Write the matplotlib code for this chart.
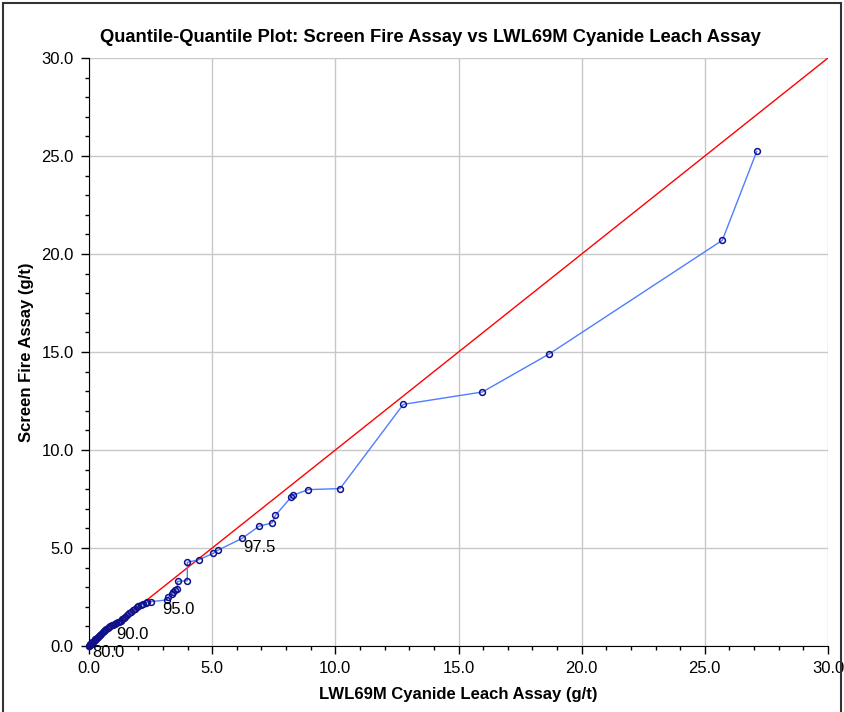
import matplotlib.pyplot as plt
from matplotlib.patches import Rectangle
from matplotlib.ticker import MultipleLocator, FormatStrFormatter

plt.rcParams['font.family'] = ['Liberation Sans', 'DejaVu Sans']

# quantile pairs (cyanide leach, screen fire), g/t
leach = [0.00, 0.01, 0.02, 0.03, 0.04, 0.05, 0.06, 0.08, 0.10, 0.12, 0.14, 0.17,
         0.20, 0.23, 0.26, 0.30, 0.34, 0.38, 0.42, 0.46, 0.50, 0.55, 0.60, 0.65,
         0.70, 0.75, 0.80, 0.86, 0.92, 0.98, 1.04, 1.10, 1.16, 1.22, 1.28, 1.34,
         1.40, 1.46, 1.55, 1.64, 1.72, 1.80, 1.87, 1.95, 2.00, 2.10, 2.21, 2.31,
         2.34, 2.50, 3.15, 3.21, 3.37, 3.42, 3.49, 3.58, 3.60, 3.99, 3.99, 4.45,
         5.05, 5.22, 6.21, 6.90, 7.43, 7.57, 8.20, 8.27, 8.90, 10.19, 12.76, 15.97,
         18.68, 25.71, 27.11]
screen = [0.00, 0.02, 0.03, 0.05, 0.06, 0.08, 0.09, 0.12, 0.14, 0.16, 0.19, 0.22,
          0.26, 0.30, 0.34, 0.38, 0.43, 0.48, 0.53, 0.58, 0.63, 0.69, 0.75, 0.81,
          0.87, 0.93, 0.98, 1.03, 1.07, 1.09, 1.11, 1.15, 1.20, 1.24, 1.30, 1.36,
          1.42, 1.50, 1.58, 1.67, 1.75, 1.84, 1.90, 1.97, 2.04, 2.11, 2.13, 2.18,
          2.23, 2.26, 2.35, 2.48, 2.67, 2.74, 2.86, 2.92, 3.30, 3.33, 4.27, 4.40,
          4.73, 4.88, 5.49, 6.11, 6.28, 6.67, 7.59, 7.69, 7.98, 8.03, 12.33, 12.96,
          14.90, 20.70, 25.24]

pct_labels = ['80.0', '90.0', '95.0', '97.5']
pct_x = [0.07, 1.04, 2.92, 6.21]
pct_y = [0.15, 1.09, 2.36, 5.49]

ref_line = [0, 30]

fig = plt.figure(figsize=(8.44, 7.12), dpi=100)
ax = fig.add_axes([0.1055, 0.0927, 0.8755, 0.8258])

ax.plot(ref_line, ref_line, color='#ff0000', lw=1, zorder=2)
ax.plot(leach, screen, color='#4f7dff', lw=1, marker='o', ms=4.2,
        mfc='none', mec='#10108a', mew=1.1, zorder=3, clip_on=False)

for lab, px, py in zip(pct_labels, pct_x, pct_y):
    ax.annotate(lab, (px, py), xytext=(1, -1.5), textcoords='offset points',
                ha='left', va='top', fontsize=12, zorder=4, annotation_clip=False)

ax.set_xlim(0, 30)
ax.set_ylim(0, 30)
ax.xaxis.set_major_locator(MultipleLocator(5))
ax.yaxis.set_major_locator(MultipleLocator(5))
ax.xaxis.set_minor_locator(MultipleLocator(1))
ax.yaxis.set_minor_locator(MultipleLocator(1))
ax.xaxis.set_major_formatter(FormatStrFormatter('%.1f'))
ax.yaxis.set_major_formatter(FormatStrFormatter('%.1f'))
ax.tick_params(which='major', direction='out', length=6, width=1, labelsize=12, pad=5)
ax.tick_params(which='minor', direction='out', length=3, width=1)
ax.grid(True, which='major', color='#c8c8c8', lw=1)
ax.set_axisbelow(True)
for s in ['top', 'right']:
    ax.spines[s].set_visible(False)
ax.spines['left'].set_color('black')
ax.spines['bottom'].set_color('black')

ax.set_xlabel('LWL69M Cyanide Leach Assay (g/t)', fontsize=12, fontweight='bold', labelpad=8)
ax.set_ylabel('Screen Fire Assay (g/t)', fontsize=12, fontweight='bold', labelpad=5)
fig.text(0.51, 0.948, 'Quantile-Quantile Plot: Screen Fire Assay vs LWL69M Cyanide Leach Assay',
         ha='center', va='center', fontsize=13.2, fontweight='bold')

fig.patches.append(Rectangle((0.004, -0.02), 0.992, 1.016, transform=fig.transFigure,
                             fill=False, edgecolor='#333333', lw=1.5))

fig.savefig('out.png', dpi=100)
